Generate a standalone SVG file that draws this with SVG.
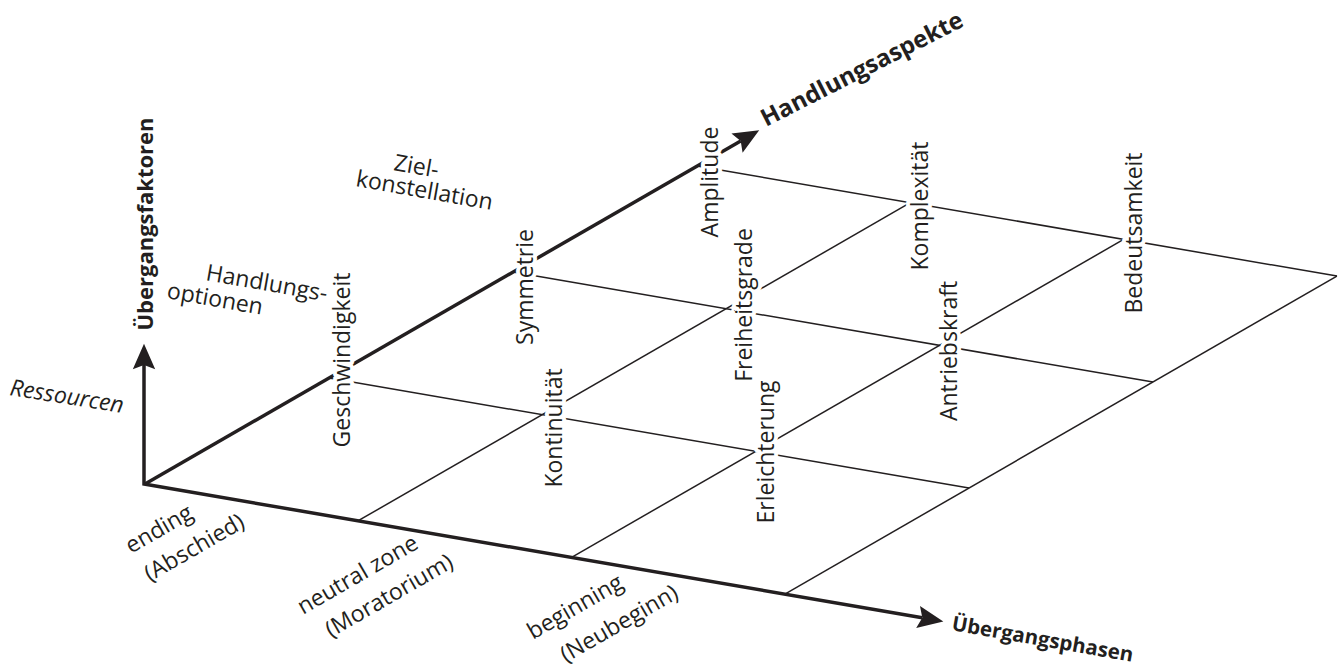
<svg xmlns="http://www.w3.org/2000/svg" width="1340" height="668" viewBox="0 0 1340 668">
<defs>
<style>
.axis{fill:none;stroke:#231f20;stroke-width:3.5;stroke-linejoin:miter}
.grid{fill:none;stroke:#231f20;stroke-width:1.5}
text{font-family:"Open Sans","Noto Sans",sans-serif;fill:#231f20}
.lbl{font-size:23px;text-anchor:middle;paint-order:stroke;stroke:#fff;stroke-width:8;stroke-linejoin:round}
.ax{font-weight:bold}
.dim{font-size:23px}
</style>
<marker id="arr" markerUnits="userSpaceOnUse" markerWidth="32" markerHeight="32" viewBox="-2 -13 30 26" refX="4" refY="0" orient="auto-start-reverse">
<path d="M0,-10.5 L24,0 L0,10.5 L4,0 Z" fill="#231f20"/>
</marker>
</defs>
<rect width="1340" height="668" fill="#fff"/>
<g id="connectors">
<line class="grid" x1="329" y1="378" x2="969" y2="488.1"/>
<line class="grid" x1="513" y1="272" x2="1153" y2="382.1"/>
<line class="grid" x1="697" y1="166" x2="1337" y2="276.1"/>
<line class="grid" x1="358.3" y1="520.7" x2="910.3" y2="202.7"/>
<line class="grid" x1="571.6" y1="557.4" x2="1123.6" y2="239.4"/>
<line class="grid" x1="784.9" y1="594.1" x2="1336.9" y2="276.1"/>
<path class="axis" d="M144,365 L144,484 L922.3,617.8" marker-start="url(#arr)" marker-end="url(#arr)"/>
<line class="axis" x1="145" y1="484" x2="740.7" y2="141" marker-end="url(#arr)"/>
</g>
<g id="axis-labels">
<text class="ax" font-size="22" text-anchor="middle" transform="translate(153,224) rotate(-90)">Übergangsfaktoren</text>
<text class="ax" font-size="24" transform="translate(766,127) rotate(-27)">Handlungsaspekte</text>
<text class="ax" font-size="20.5" transform="translate(951,630) rotate(10)">Übergangsphasen</text>
</g>
<g id="factor-labels">
<text class="dim" font-size="24" font-style="italic" transform="translate(9,395) rotate(9)">Ressourcen</text>
<text class="dim" transform="translate(205,280) rotate(10)">Handlungs-</text>
<text class="dim" transform="translate(166,298) rotate(10)">optionen</text>
<text class="dim" transform="translate(393,170) rotate(10)">Ziel-</text>
<text class="dim" transform="translate(355,186) rotate(10)">konstellation</text>
</g>
<g id="phase-labels">
<text class="dim" transform="translate(131,554) rotate(-30)">ending</text>
<text class="dim" transform="translate(150,582) rotate(-30)">(Abschied)</text>
<text class="dim" transform="translate(303,615) rotate(-30)">neutral zone</text>
<text class="dim" transform="translate(331,638) rotate(-30)">(Moratorium)</text>
<text class="dim" transform="translate(533,640) rotate(-30)">beginning</text>
<text class="dim" transform="translate(566,663) rotate(-30)">(Neubeginn)</text>
</g>
<g id="cell-labels">
<text id="n-geschwindigkeit" class="lbl" transform="translate(350,360) rotate(-90)">Geschwindigkeit</text>
<text id="n-symmetrie" class="lbl" transform="translate(533,287) rotate(-90)">Symmetrie</text>
<text id="n-amplitude" class="lbl" transform="translate(718,182) rotate(-90)">Amplitude</text>
<text id="n-kontinuitaet" class="lbl" transform="translate(562,428) rotate(-90)">Kontinuität</text>
<text id="n-freiheitsgrade" class="lbl" transform="translate(752,305) rotate(-90)">Freiheitsgrade</text>
<text id="n-komplexitaet" class="lbl" transform="translate(928,206) rotate(-90)">Komplexität</text>
<text id="n-erleichterung" class="lbl" transform="translate(774,452) rotate(-90)">Erleichterung</text>
<text id="n-antriebskraft" class="lbl" transform="translate(957,351) rotate(-90)">Antriebskraft</text>
<text id="n-bedeutsamkeit" class="lbl" transform="translate(1142,233) rotate(-90)">Bedeutsamkeit</text>
</g>
</svg>
